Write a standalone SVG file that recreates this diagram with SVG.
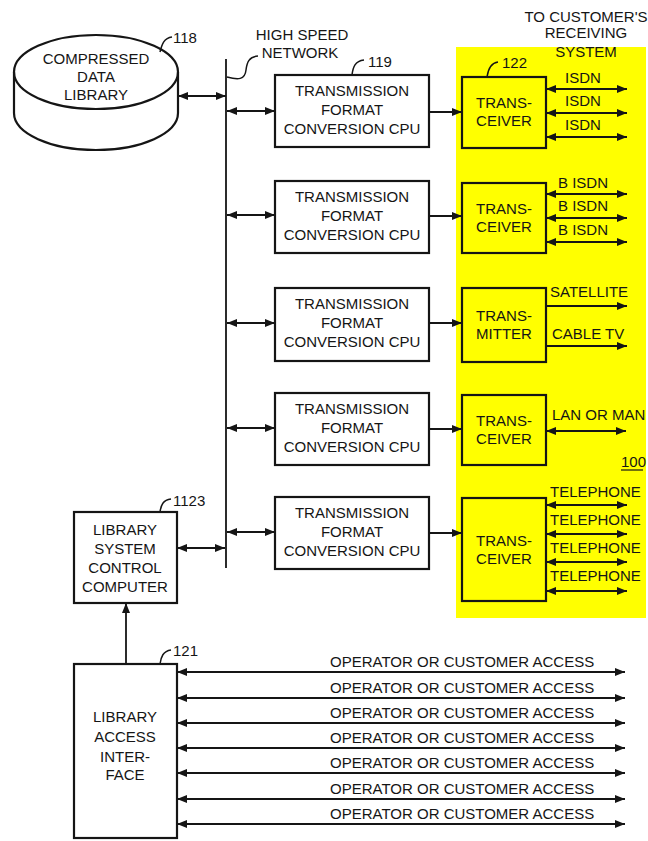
<svg xmlns="http://www.w3.org/2000/svg" width="648" height="841" viewBox="0 0 648 841">
<style>
text{font-family:"Liberation Sans",Arial,sans-serif;font-size:15px;fill:#151515}
.c{text-anchor:middle}
.box{fill:none;stroke:#151515;stroke-width:2.2}
.yb{fill:#ffff00;stroke:#151515;stroke-width:2.2}
.ln{fill:none;stroke:#151515;stroke-width:1.8}
.da{fill:none;stroke:#151515;stroke-width:1.8;marker-start:url(#ah);marker-end:url(#ah)}
.sa{fill:none;stroke:#151515;stroke-width:1.8;marker-end:url(#ah)}
.ld{fill:none;stroke:#151515;stroke-width:1.5}
</style>
<defs>
<marker id="ah" viewBox="0 0 10 8" refX="10" refY="4" markerWidth="10" markerHeight="8" markerUnits="userSpaceOnUse" orient="auto-start-reverse"><path d="M0,0 L10,4 L0,8 z" fill="#151515"/></marker>
</defs>
<rect width="648" height="841" fill="#ffffff"/>
<rect x="456" y="47" width="190" height="571" fill="#ffff00"/>

<g id="library">
<path class="box" d="M14,72 L14,113 A82,37 0 0 0 178,113 L178,72"/>
<ellipse class="box" cx="96" cy="72" rx="82" ry="37" fill="#fff"/>
<text class="c" x="96" y="64">COMPRESSED</text>
<text class="c" x="96" y="82">DATA</text>
<text class="c" x="96" y="100">LIBRARY</text>
<path class="ld" d="M160,52 C162,44 164,38 172,37"/>
<text x="173" y="43">118</text>
</g>

<g id="network">
<line class="ln" x1="226" y1="59" x2="226" y2="568" stroke-width="2"/>
<path class="ld" d="M227,77 C238,80 245,80 246,70 C247,62 249,57 258,56"/>
<text class="c" x="302" y="40">HIGH SPEED</text>
<text class="c" x="300" y="58">NETWORK</text>
</g>

<g id="cpu1">
<rect class="box" x="275" y="75" width="154" height="72"/>
<text class="c" x="352" y="96">TRANSMISSION</text>
<text class="c" x="352" y="115">FORMAT</text>
<text class="c" x="352" y="134">CONVERSION CPU</text>
<path class="ld" d="M352,75 C353,67 355,61 364,60"/>
<text x="368" y="67">119</text>
</g>
<g id="cpu2">
<rect class="box" x="275" y="181" width="154" height="72"/>
<text class="c" x="352" y="202">TRANSMISSION</text>
<text class="c" x="352" y="221">FORMAT</text>
<text class="c" x="352" y="240">CONVERSION CPU</text>
</g>
<g id="cpu3">
<rect class="box" x="275" y="288" width="154" height="73"/>
<text class="c" x="352" y="309">TRANSMISSION</text>
<text class="c" x="352" y="328">FORMAT</text>
<text class="c" x="352" y="347">CONVERSION CPU</text>
</g>
<g id="cpu4">
<rect class="box" x="275" y="393" width="154" height="72"/>
<text class="c" x="352" y="414">TRANSMISSION</text>
<text class="c" x="352" y="433">FORMAT</text>
<text class="c" x="352" y="452">CONVERSION CPU</text>
</g>
<g id="cpu5">
<rect class="box" x="275" y="497" width="154" height="72"/>
<text class="c" x="352" y="518">TRANSMISSION</text>
<text class="c" x="352" y="537">FORMAT</text>
<text class="c" x="352" y="556">CONVERSION CPU</text>
</g>

<g id="trans1">
<rect class="yb" x="462" y="77" width="84" height="71"/>
<text class="c" x="504" y="108">TRANS-</text>
<text class="c" x="504" y="126">CEIVER</text>
<path class="ld" d="M487,77 C488,70 490,63 498,62"/>
<text x="502" y="68">122</text>
</g>
<g id="trans2">
<rect class="yb" x="462" y="183" width="84" height="70"/>
<text class="c" x="504" y="214">TRANS-</text>
<text class="c" x="504" y="232">CEIVER</text>
</g>
<g id="trans3">
<rect class="yb" x="462" y="288" width="84" height="74"/>
<text class="c" x="504" y="321">TRANS-</text>
<text class="c" x="504" y="339">MITTER</text>
</g>
<g id="trans4">
<rect class="yb" x="462" y="395" width="84" height="70"/>
<text class="c" x="504" y="426">TRANS-</text>
<text class="c" x="504" y="444">CEIVER</text>
</g>
<g id="trans5">
<rect class="yb" x="462" y="498" width="84" height="103"/>
<text class="c" x="504" y="546">TRANS-</text>
<text class="c" x="504" y="564">CEIVER</text>
</g>

<g id="lscc">
<rect class="box" x="74" y="512" width="103" height="91"/>
<text class="c" x="125" y="535">LIBRARY</text>
<text class="c" x="125" y="554">SYSTEM</text>
<text class="c" x="125" y="573">CONTROL</text>
<text class="c" x="125" y="592">COMPUTER</text>
<path class="ld" d="M160,512 C161,505 163,500 171,499"/>
<text x="173" y="506">1123</text>
</g>

<g id="lai">
<rect class="box" x="74" y="664" width="103" height="174"/>
<text class="c" x="125" y="722">LIBRARY</text>
<text class="c" x="125" y="742">ACCESS</text>
<text class="c" x="125" y="762">INTER-</text>
<text class="c" x="125" y="780">FACE</text>
<path class="ld" d="M160,664 C161,657 163,651 171,650"/>
<text x="173" y="656">121</text>
</g>

<g id="labels">
<text class="c" x="586" y="22">TO CUSTOMER'S</text>
<text class="c" x="586" y="38">RECEIVING</text>
<text class="c" x="586" y="57">SYSTEM</text>
<text class="c" x="583" y="83">ISDN</text>
<text class="c" x="583" y="106">ISDN</text>
<text class="c" x="583" y="130">ISDN</text>
<text class="c" x="583" y="188">B ISDN</text>
<text class="c" x="583" y="211">B ISDN</text>
<text class="c" x="583" y="235">B ISDN</text>
<text x="550" y="297">SATELLITE</text>
<text x="552" y="339">CABLE TV</text>
<text x="552" y="420">LAN OR MAN</text>
<text x="621" y="467">100</text>
<line x1="621" y1="470" x2="643" y2="470" stroke="#151515" stroke-width="1.2"/>
<text x="550" y="497">TELEPHONE</text>
<text x="550" y="525">TELEPHONE</text>
<text x="550" y="553">TELEPHONE</text>
<text x="550" y="581">TELEPHONE</text>
<text x="330" y="667">OPERATOR OR CUSTOMER ACCESS</text>
<text x="330" y="693">OPERATOR OR CUSTOMER ACCESS</text>
<text x="330" y="718">OPERATOR OR CUSTOMER ACCESS</text>
<text x="330" y="743">OPERATOR OR CUSTOMER ACCESS</text>
<text x="330" y="768">OPERATOR OR CUSTOMER ACCESS</text>
<text x="330" y="794">OPERATOR OR CUSTOMER ACCESS</text>
<text x="330" y="819">OPERATOR OR CUSTOMER ACCESS</text>
</g>

<g id="connectors">
<line class="da" x1="178" y1="96" x2="226" y2="96"/>
<line class="da" x1="227" y1="111" x2="275" y2="111"/>
<line class="da" x1="227" y1="215" x2="275" y2="215"/>
<line class="da" x1="227" y1="323" x2="275" y2="323"/>
<line class="da" x1="227" y1="428" x2="275" y2="428"/>
<line class="da" x1="227" y1="532" x2="275" y2="532"/>
<line class="da" x1="177" y1="548" x2="225" y2="548"/>
<line class="sa" x1="429" y1="112" x2="462" y2="112"/>
<line class="sa" x1="429" y1="216" x2="462" y2="216"/>
<line class="sa" x1="429" y1="323" x2="462" y2="323"/>
<line class="sa" x1="429" y1="429" x2="462" y2="429"/>
<line class="sa" x1="429" y1="533" x2="462" y2="533"/>
<line class="da" x1="546" y1="89" x2="627" y2="89"/>
<line class="da" x1="546" y1="113" x2="627" y2="113"/>
<line class="da" x1="546" y1="137" x2="627" y2="137"/>
<line class="da" x1="546" y1="194" x2="627" y2="194"/>
<line class="da" x1="546" y1="218" x2="627" y2="218"/>
<line class="da" x1="546" y1="242" x2="627" y2="242"/>
<line class="sa" x1="546" y1="306" x2="627" y2="306"/>
<line class="sa" x1="546" y1="346" x2="627" y2="346"/>
<line class="da" x1="546" y1="431" x2="626" y2="431"/>
<line class="da" x1="546" y1="505" x2="627" y2="505"/>
<line class="da" x1="546" y1="534" x2="627" y2="534"/>
<line class="da" x1="546" y1="562" x2="627" y2="562"/>
<line class="da" x1="546" y1="591" x2="627" y2="591"/>
<line class="sa" x1="126" y1="664" x2="126" y2="603"/>
<line class="da" x1="177" y1="672" x2="625" y2="672"/>
<line class="da" x1="177" y1="698" x2="625" y2="698"/>
<line class="da" x1="177" y1="723" x2="625" y2="723"/>
<line class="da" x1="177" y1="748" x2="625" y2="748"/>
<line class="da" x1="177" y1="773" x2="625" y2="773"/>
<line class="da" x1="177" y1="799" x2="625" y2="799"/>
<line class="da" x1="177" y1="824" x2="625" y2="824"/>
</g>
</svg>
